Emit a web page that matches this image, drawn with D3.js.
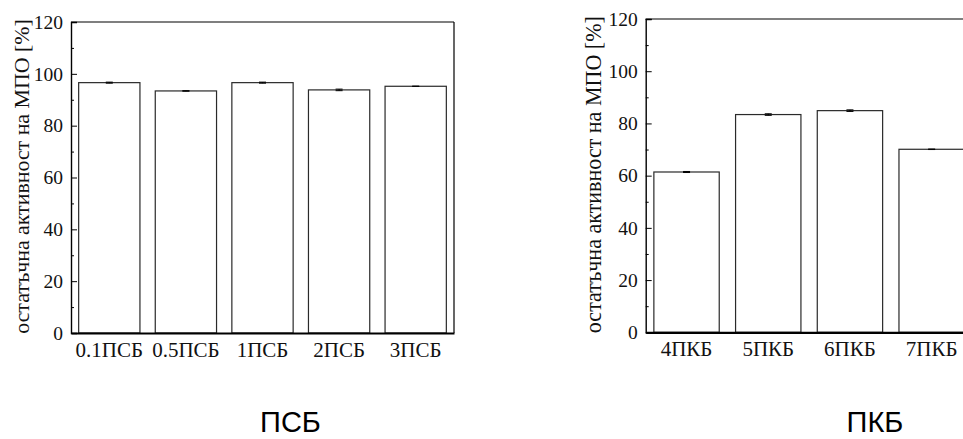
<!DOCTYPE html>
<html>
<head>
<meta charset="utf-8">
<script src="https://cdn.jsdelivr.net/npm/d3@7"></script>
<style>
  html, body { margin: 0; padding: 0; background: #fff; overflow: hidden; }
  svg { display: block; }
</style>
</head>
<body>
<svg id="chart" width="963" height="439"></svg>
<script>
// Residual MPO activity, two groups of samples
const psbCategories = ["0.1ПСБ", "0.5ПСБ", "1ПСБ", "2ПСБ", "3ПСБ"];
const psbValues = [96.6, 93.4, 96.6, 93.8, 95.2];
const psbErrors = [0.2, 0.1, 0.2, 0.3, 0.0];

const pkbCategories = ["4ПКБ", "5ПКБ", "6ПКБ", "7ПКБ"];
const pkbValues = [61.4, 83.4, 84.9, 70.1];
const pkbErrors = [0.2, 0.3, 0.3, 0.1];

const majorTicks = [0, 20, 40, 60, 80, 100, 120];
const minorTicks = [10, 30, 50, 70, 90, 110];
const yTitle = "остатъчна активност на МПО [%]";

const SERIF = "'Liberation Serif', 'Times New Roman', Times, serif";
const SANS = "'Liberation Sans', Arial, Helvetica, sans-serif";

const svg = d3.select("#chart");

function panel(opts) {
  const { cats, vals, errs, left, right, top, bottom, titleX, groupTitle, groupX } = opts;
  const g = svg.append("g");

  const x = d3.scaleBand().domain(cats).range([left, right])
    .paddingInner(0.2).paddingOuter(0.1);
  const y = d3.scaleLinear().domain([0, 120]).range([bottom, top]);

  // bars
  g.selectAll("rect.bar").data(vals).join("rect")
    .attr("class", "bar")
    .attr("x", (d, i) => x(cats[i]))
    .attr("y", d => y(d))
    .attr("width", x.bandwidth())
    .attr("height", d => y(0) - y(d))
    .attr("fill", "#fff")
    .attr("stroke", "#2a2a2a")
    .attr("stroke-width", 1.2);

  // error bars
  const cap = 7;
  const eg = g.selectAll("g.err").data(vals).join("g").attr("class", "err");
  eg.append("line")
    .attr("x1", (d, i) => x(cats[i]) + x.bandwidth() / 2)
    .attr("x2", (d, i) => x(cats[i]) + x.bandwidth() / 2)
    .attr("y1", (d, i) => y(d + errs[i]))
    .attr("y2", (d, i) => y(d - errs[i]))
    .attr("stroke", "#000").attr("stroke-width", 1);
  [1, -1].forEach(s => {
    eg.append("line")
      .attr("x1", (d, i) => x(cats[i]) + x.bandwidth() / 2 - cap / 2)
      .attr("x2", (d, i) => x(cats[i]) + x.bandwidth() / 2 + cap / 2)
      .attr("y1", (d, i) => y(d + s * errs[i]))
      .attr("y2", (d, i) => y(d + s * errs[i]))
      .attr("stroke", "#000").attr("stroke-width", 1);
  });

  // frame: top and right edges
  g.append("line").attr("x1", left).attr("x2", right).attr("y1", top).attr("y2", top)
    .attr("stroke", "#000").attr("stroke-width", 1.2);
  g.append("line").attr("x1", right).attr("x2", right).attr("y1", top).attr("y2", bottom)
    .attr("stroke", "#000").attr("stroke-width", 1.2);

  // y axis: major ticks with labels, minor ticks without, all pointing inward
  const yAxis = g.append("g").attr("transform", `translate(${left},0)`)
    .call(d3.axisLeft(y).tickValues(majorTicks).tickSize(-6).tickPadding(8).tickFormat(d3.format("d")));
  yAxis.attr("font-family", SERIF).attr("font-size", 19.5);
  yAxis.selectAll("text").style("font-family", SERIF).attr("fill", "#111");
  yAxis.select(".domain").attr("stroke-width", 1.4);
  g.append("g").attr("transform", `translate(${left},0)`)
    .call(d3.axisLeft(y).tickValues(minorTicks).tickSize(-3).tickFormat(""))
    .select(".domain").remove();

  // x axis
  const xAxis = g.append("g").attr("transform", `translate(0,${bottom})`)
    .call(d3.axisBottom(x).tickSize(0).tickPadding(9));
  xAxis.attr("font-family", SERIF).attr("font-size", 21);
  xAxis.selectAll("text").style("font-family", SERIF).attr("fill", "#111");
  xAxis.select(".domain").attr("stroke-width", 2.2);

  // rotated y title, sized to span the axis height
  const t = g.append("text")
    .attr("transform", `translate(${titleX},${(top + bottom) / 2 - 1}) rotate(-90)`)
    .attr("text-anchor", "middle")
    .style("font-family", SERIF)
    .attr("font-size", 18)
    .attr("fill", "#111")
    .text(yTitle);
  const len = t.node().getComputedTextLength();
  t.attr("font-size", 18 * (bottom - top + 4) / len);

  // group caption
  svg.append("text")
    .attr("x", groupX).attr("y", 432)
    .attr("text-anchor", "middle")
    .style("font-family", SANS)
    .attr("font-size", 29)
    .attr("fill", "#000")
    .text(groupTitle);
}

panel({ cats: psbCategories, vals: psbValues, errs: psbErrors,
  left: 71, right: 454, top: 22, bottom: 333, titleX: 29, groupTitle: "ПСБ", groupX: 290.5 });

panel({ cats: pkbCategories, vals: pkbValues, errs: pkbErrors,
  left: 645.7, right: 972.5, top: 19, bottom: 332.3, titleX: 601, groupTitle: "ПКБ", groupX: 875 });
</script>
</body>
</html>
